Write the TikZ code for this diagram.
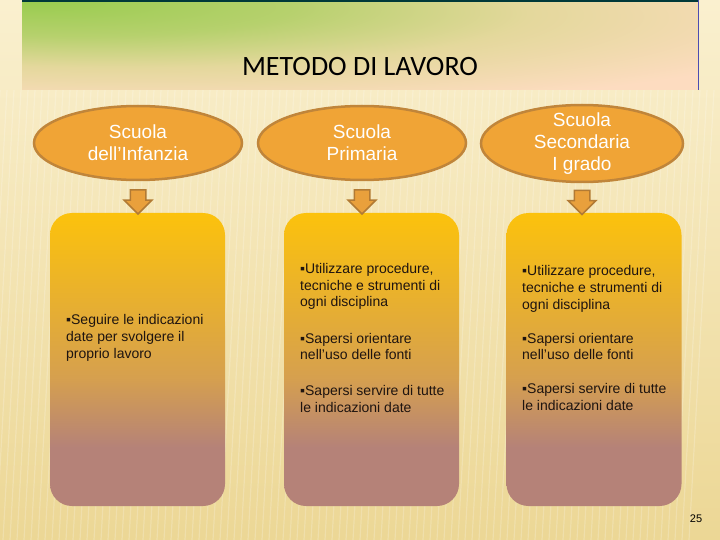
\documentclass[tikz,border=0pt]{standalone}
\usepackage{fontspec}
\setmainfont{Liberation Sans}
\newfontfamily\titlefont{Carlito}
\usepackage{xcolor}
\usepackage{tikz}
\usetikzlibrary{shapes.geometric, shapes.arrows, positioning}
\definecolor{bgtop}{HTML}{FAF0CF}
\definecolor{bgbot}{HTML}{ECD795}
\definecolor{bannergreen}{HTML}{98CC4E}
\definecolor{bannermid}{HTML}{E4D89C}
\definecolor{bannerpeach}{HTML}{FDDCC0}
\definecolor{myorange}{HTML}{F0A436}
\definecolor{myborder}{HTML}{C0853A}
\definecolor{arrowfill}{HTML}{E9A03C}
\definecolor{arrowline}{HTML}{B27A34}
\definecolor{boxgold}{HTML}{FCC20C}
\definecolor{boxmid}{HTML}{D6A04E}
\definecolor{boxmauve}{HTML}{B58278}
\definecolor{itemtext}{HTML}{1E1410}
\pgfdeclareradialshading{bannerglow}{\pgfpoint{-25bp}{25bp}}{color(0bp)=(bannergreen); color(16bp)=(bannergreen!60!bannermid); color(30bp)=(bannermid); color(48bp)=(bannerpeach); color(100bp)=(bannerpeach)}
\pgfdeclareverticalshading{boxfade}{100bp}{color(0bp)=(boxmauve); color(25bp)=(boxmauve); color(35bp)=(boxmauve); color(47bp)=(boxmid); color(75bp)=(boxgold); color(100bp)=(boxgold)}
\tikzstyle{school} = [ellipse, minimum width=208pt, minimum height=74pt, inner sep=0pt, align=center, fill=myorange, draw=myborder, line width=2.5pt, text=white, font=\fontsize{19}{22}\selectfont]
\tikzstyle{panel} = [rectangle, rounded corners=22pt, minimum width=175pt, minimum height=293pt, shading=boxfade]
\tikzstyle{downarrow} = [single arrow, shape border rotate=270, minimum height=24pt, minimum width=26pt, single arrow head extend=6pt, inner sep=7pt, fill=arrowfill, draw=arrowline, line width=1.5pt]
\tikzstyle{item} = [anchor=west, align=left, inner sep=0pt, text=itemtext, font=\fontsize{14}{16.7}\selectfont]

\begin{document}
\begin{tikzpicture}[x=1pt, y=-1pt]
    % background and title banner
    \fill[top color=bgtop, bottom color=bgbot] (0,0) rectangle (720,540);
    \useasboundingbox (0,0) rectangle (720,540);
    \foreach \s in {0,7,...,720}
      \draw[white, opacity=0.2, line width=1.2pt] (\s,90) -- (\s-25,540);
    \fill[shading=bannerglow] (22,0) rectangle (698,90);
    \draw[black!55!teal, line width=1.5pt] (22,1) -- (698,1);
    \draw[blue!40!gray, line width=0.6pt] (698,0) -- (698,90);
    \node[font=\titlefont\fontsize{28}{30}\selectfont] (title) at (360,67) {METODO DI LAVORO};

    % boxes
    \node[panel] (bx1) at (137.5,359.5) {};
    \node[panel] (bx2) at (371.5,359.5) {};
    \node[panel] (bx3) at (594,359.5) {};

    % schools and arrows
    \node[school] (sc1) at (138,143) {Scuola\\dell’Infanzia};
    \node[school] (sc2) at (362,143) {Scuola\\Primaria};
    \node[school, inner sep=-6pt, minimum width=202pt, minimum height=77pt] (sc3) at (582,143.5) {Scuola\\Secondaria\\I grado};
    \node[downarrow, below=8pt of sc1] (ar1) {};
    \node[downarrow, below=8pt of sc2] (ar2) {};
    \node[downarrow, below=6.5pt of sc3] (ar3) {};

    % items
    \node[item] (tx1) at (66,338) {▪Seguire le indicazioni\\date per svolgere il\\proprio lavoro};
    \node[item] (tx2) at (300,338) {▪Utilizzare procedure,\\tecniche e strumenti di\\ogni disciplina\\[19.5pt]▪Sapersi orientare\\nell’uso delle fonti\\[19.5pt]▪Sapersi servire di tutte\\le indicazioni date};
    \node[item] (tx3) at (522,338) {▪Utilizzare procedure,\\tecniche e strumenti di\\ogni disciplina\\[17pt]▪Sapersi orientare\\nell’uso delle fonti\\[17pt]▪Sapersi servire di tutte\\le indicazioni date};

    \node[font=\fontsize{11}{13}\selectfont] (page) at (696,519) {25};
\end{tikzpicture}
\end{document}
